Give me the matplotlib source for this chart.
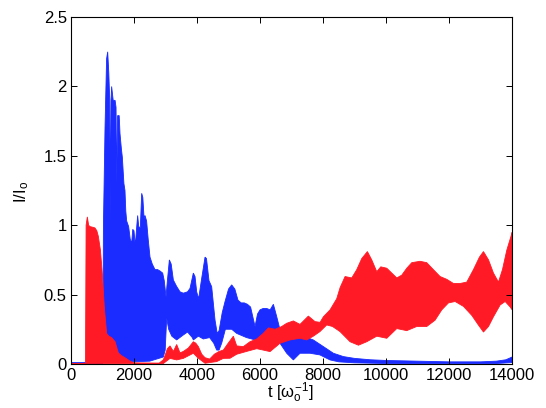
import numpy as np
import matplotlib
matplotlib.use('Agg')
import matplotlib.pyplot as plt

plt.rcParams['font.family'] = ['Liberation Sans', 'DejaVu Sans']
plt.rcParams['mathtext.fontset'] = 'custom'
plt.rcParams['mathtext.rm'] = 'Liberation Sans'
plt.rcParams['mathtext.it'] = 'Liberation Sans'

# blue band (upper / lower edge of the fast oscillation)
blue_t_hi = [0, 450, 1000, 1010, 1030, 1080, 1130, 1165, 1200, 1230, 1250, 1270, 1290, 1340,
             1400, 1430, 1450, 1480, 1530, 1556, 1600, 1630, 1680, 1714, 1740, 1768, 1830,
             1880, 1926, 1960, 2000, 2030, 2047, 2090, 2116, 2150, 2200, 2244, 2280, 2320,
             2349, 2400, 2450, 2508, 2580, 2667, 2750, 2825, 2910, 2960, 3016, 3060, 3122,
             3180, 3249, 3350, 3460, 3566, 3700, 3778, 3883, 3937, 3989, 4050, 4150, 4254,
             4300, 4380, 4465, 4571, 4640, 4700, 4800, 4889, 5000, 5100, 5200, 5300, 5400,
             5500, 5600, 5700, 5780, 5841, 5920, 6000, 6100, 6210, 6320, 6423, 6530, 6630,
             6700, 6900, 7110, 7375, 7690, 8010, 8327, 8645, 9000, 9500, 10000, 11000,
             12000, 13000, 13500, 13800, 14000]
blue_hi = [0.01, 0.01, 0.01, 0.05, 1.0, 1.7, 2.2, 2.25, 2.1, 1.9, 1.03, 1.9, 2.0, 1.9,
           1.9, 1.85, 1.3, 1.79, 1.79, 1.66, 1.55, 1.49, 1.3, 1.25, 1.1, 1.03, 0.99,
           0.9, 0.87, 0.97, 0.96, 0.88, 0.87, 1.0, 1.07, 0.99, 0.98, 1.23, 1.2, 1.05,
           1.07, 1.03, 0.9, 0.77, 0.72, 0.68, 0.68, 0.67, 0.655, 0.6, 0.485, 0.6, 0.75,
           0.72, 0.605, 0.56, 0.52, 0.51, 0.52, 0.545, 0.655, 0.63, 0.52, 0.47, 0.62, 0.77,
           0.76, 0.6, 0.557, 0.317, 0.22, 0.24, 0.37, 0.45, 0.54, 0.57, 0.54, 0.46, 0.44,
           0.44, 0.43, 0.41, 0.33, 0.27, 0.36, 0.39, 0.40, 0.40, 0.39, 0.43, 0.34, 0.25,
           0.24, 0.22, 0.26, 0.2, 0.173, 0.125, 0.077, 0.053, 0.04, 0.03, 0.025, 0.02,
           0.015, 0.015, 0.02, 0.03, 0.05]
blue_t_lo = [0, 1000, 1030, 1500, 2000, 2500, 2931, 2990, 3037, 3100, 3200, 3354, 3566,
             3700, 3850, 3883, 4042, 4200, 4400, 4530, 4624, 4700, 4783, 4900, 4994, 5100,
             5260, 5570, 5894, 6000, 6210, 6317, 6524, 6634, 6846, 7057, 7268, 7585, 7900,
             8220, 8500, 9000, 10000, 12000, 13500, 14000]
blue_lo = [0.0, 0.0, 0.03, 0.02, 0.015, 0.02, 0.05, 0.1, 0.33, 0.25, 0.2, 0.173, 0.209,
           0.23, 0.19, 0.173, 0.2, 0.18, 0.19, 0.15, 0.1, 0.1, 0.15, 0.25, 0.25, 0.25,
           0.22, 0.19, 0.17, 0.19, 0.21, 0.23, 0.18, 0.149, 0.077, 0.029, 0.077, 0.077, 0.065,
           0.029, 0.015, 0.008, 0.003, 0.002, 0.003, 0.01]

# red band
red_t_hi = [0, 440, 460, 480, 519, 560, 603, 700, 762, 820, 868, 935, 995, 1058, 1132,
            1200, 1290, 1400, 1503, 1600, 1714, 1873, 2000, 2800, 2931, 2984, 3060, 3143,
            3250, 3354, 3460, 3566, 3725, 3883, 3960, 4042, 4150, 4254, 4400, 4550, 4700,
            4836, 4990, 5153, 5260, 5470, 5680, 5894, 6100, 6265, 6476, 6688, 6846, 7057,
            7268, 7533, 7745, 7905, 8010, 8222, 8433, 8540, 8698, 8910, 9069, 9228, 9407,
            9545, 9704, 9831, 10021, 10180, 10339, 10497, 10656, 10815, 11079, 11290, 11500,
            11714, 11925, 12137, 12349, 12560, 12772, 12962, 13090, 13250, 13407, 13566,
            13693, 13830, 13990, 14000]
red_hi = [0.0, 0.003, 0.005, 1.0, 1.06, 1.0, 0.99, 0.985, 0.98, 0.96, 0.92, 0.82, 0.65,
          0.41, 0.22, 0.2, 0.19, 0.16, 0.08, 0.06, 0.045, 0.02, 0.008, 0.006, 0.03, 0.06,
          0.11, 0.13, 0.09, 0.14, 0.08, 0.09, 0.115, 0.16, 0.15, 0.125, 0.07, 0.045, 0.035,
          0.07, 0.09, 0.1, 0.15, 0.2, 0.13, 0.125, 0.16, 0.18, 0.22, 0.26, 0.25, 0.27,
          0.293, 0.31, 0.285, 0.345, 0.305, 0.3, 0.34, 0.39, 0.47, 0.55, 0.63, 0.62, 0.68,
          0.76, 0.81, 0.75, 0.665, 0.7, 0.69, 0.655, 0.62, 0.64, 0.69, 0.73, 0.74, 0.73,
          0.68, 0.63, 0.61, 0.58, 0.58, 0.59, 0.68, 0.77, 0.81, 0.75, 0.655, 0.59, 0.68,
          0.82, 0.94, 0.95]
red_t_lo = [0, 2931, 3143, 3354, 3566, 3883, 4042, 4254, 4624, 4836, 5047, 5260, 5570,
            5894, 6100, 6317, 6634, 6952, 7268, 7480, 7690, 7900, 8116, 8300, 8539, 8857,
            9122, 9386, 9704, 10021, 10339, 10656, 10973, 11290, 11553, 11767, 11979, 12190,
            12455, 12720, 12931, 13090, 13250, 13407, 13619, 13778, 13940, 14000]
red_lo = [0.0, 0.003, 0.04, 0.029, 0.04, 0.077, 0.041, 0.005, 0.017, 0.04, 0.041, 0.07,
          0.09, 0.11, 0.1, 0.089, 0.149, 0.173, 0.185, 0.173, 0.2, 0.233, 0.281, 0.27,
          0.233, 0.16, 0.135, 0.16, 0.2, 0.185, 0.255, 0.24, 0.27, 0.27, 0.315, 0.39, 0.44,
          0.45, 0.415, 0.35, 0.28, 0.23, 0.27, 0.34, 0.425, 0.45, 0.41, 0.39]

x_ticks = [0, 2000, 4000, 6000, 8000, 10000, 12000, 14000]
y_ticks = [0, 0.5, 1, 1.5, 2, 2.5]
y_labels = ['0', '0.5', '1', '1.5', '2', '2.5']


def band(ax, t_hi, hi, t_lo, lo, color):
    xs = list(t_hi) + list(t_lo)[::-1]
    ys = list(hi) + list(lo)[::-1]
    ax.fill(xs, ys, color=color, lw=0.6, ec=color)


fig = plt.figure(figsize=(5.46, 4.08), dpi=100)
ax = fig.add_axes([0.13, 0.108, 0.808, 0.85])

band(ax, blue_t_hi, blue_hi, blue_t_lo, blue_lo, '#1a2cff')
band(ax, red_t_hi, red_hi, red_t_lo, red_lo, '#ff1a26')

ax.set_xlim(0, 14000)
ax.set_ylim(0, 2.5)
ax.set_xticks(x_ticks)
ax.set_xticklabels([str(v) for v in x_ticks])
ax.set_yticks(y_ticks)
ax.set_yticklabels(y_labels)
ax.tick_params(direction='in', length=4, width=0.7, top=True, right=True,
               labelsize=12, pad=3)
for s in ax.spines.values():
    s.set_linewidth(0.8)

# axis labels placed by hand, they sit tight against the tick labels like the original
fig.text(290 / 546, 1 - 398 / 408, r't [$\omega_o^{-1}$]', ha='center', va='baseline',
         fontsize=12)
fig.text(22 / 546, 1 - 192 / 408, r'I/I$_o$', ha='center', va='center', rotation=90,
         fontsize=12)

fig.savefig('out.png', dpi=100)
